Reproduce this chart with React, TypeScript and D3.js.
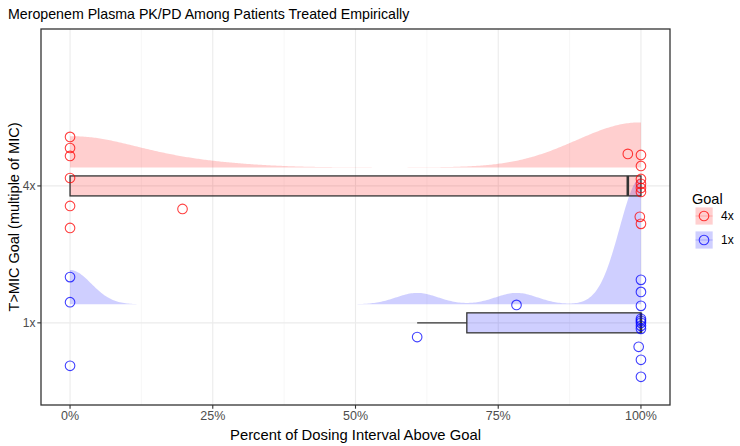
import React from "react";
import * as d3 from "d3";

// Categories (bottom to top on the y axis)
const goalOrder = ["1x", "4x"];
const legendOrder = ["4x", "1x"];
const goalColors = ["blue", "red"]; // aligned with goalOrder

// Observed points: percent of dosing interval above goal, with vertical jitter offsets
const pct4x = [0, 0, 0, 0, 0, 0, 19.7, 97.7, 100, 100, 100, 100, 100, 100, 99.8, 100];
const jitter4x = [0.358, 0.277, 0.219, 0.058, -0.146, -0.307, -0.168, 0.234, 0.226, 0.146, 0.051, 0.015, -0.015, -0.044, -0.226, -0.277];
const pct1x = [0, 0, 0, 60.8, 78.2, 100, 100, 100, 100, 100, 100, 100, 100, 99.6, 100, 100];
const jitter1x = [0.334, 0.151, -0.314, -0.104, 0.131, 0.314, 0.226, 0.124, 0.029, 0.015, 0.0, -0.022, -0.044, -0.175, -0.27, -0.394];

// Boxplot statistics (aligned with goalOrder)
const boxLow = [60.8, 0];
const boxQ1 = [69.5, 0];
const boxMedian = [100, 97.7];
const boxQ3 = [100, 100];
const boxHigh = [100, 100];

// Density bandwidths (aligned with goalOrder)
const densityBandwidth = [3.7, 11];

const xTicks = [0, 25, 50, 75, 100];
const xTickLabels = ["0%", "25%", "50%", "75%", "100%"];
const xMinor = [12.5, 37.5, 62.5, 87.5];

const FONT = "'Liberation Sans', Arial, Helvetica, sans-serif";

function kde(xs: number[], bw: number, grid: number[]) {
  return grid.map((g) => ({
    x: g,
    d:
      d3.sum(xs, (xi) => Math.exp(-0.5 * ((g - xi) / bw) ** 2)) /
      (xs.length * bw * Math.sqrt(2 * Math.PI)),
  }));
}

export default function App() {
  const W = 740;
  const H = 446;
  const pL = 41, pR = 670, pT = 29, pB = 405;
  const x = d3.scaleLinear().domain([-5, 105]).range([41.5, 669.5]);
  const y = d3.scaleLinear().domain([0.4, 3.146]).range([pB, pT]);
  const pos = (g: string) => goalOrder.indexOf(g) + 1;

  const groups = [
    { goal: "1x", pct: pct1x, jit: jitter1x },
    { goal: "4x", pct: pct4x, jit: jitter4x },
  ];
  const peakPx = [126, 45];
  const ridgeOffset = 0.135;
  const grid = d3.range(0, 100.0001, 0.25);

  const fillOf = (i: number) =>
    i === 0 ? "rgba(0,0,255,0.19)" : "rgba(255,0,0,0.19)";

  const boxHalf = 0.073;

  return (
    <svg
      width={W}
      height={H}
      style={{ position: "absolute", left: 0, top: 0, background: "#fff" }}
      fontFamily={FONT}
    >
      <rect x={0} y={0} width={W} height={H} fill="#fff" />
      {/* grid */}
      {xMinor.map((v) => (
        <line key={"mn" + v} x1={x(v)} x2={x(v)} y1={pT} y2={pB} stroke="#F2F2F2" strokeWidth={0.6} />
      ))}
      {xTicks.map((v) => (
        <line key={"mj" + v} x1={x(v)} x2={x(v)} y1={pT} y2={pB} stroke="#EBEBEB" strokeWidth={1.1} />
      ))}
      {goalOrder.map((g) => (
        <line key={"gy" + g} x1={pL} x2={pR} y1={y(pos(g))} y2={y(pos(g))} stroke="#EBEBEB" strokeWidth={1.1} />
      ))}

      {/* density ridges */}
      {groups.map((grp, i) => {
        const dens = kde(grp.pct, densityBandwidth[i], grid);
        const mx = d3.max(dens, (d) => d.d) as number;
        const base = y(pos(grp.goal) + ridgeOffset);
        const area = d3
          .area<{ x: number; d: number }>()
          .x((d) => x(d.x))
          .y0(base)
          .y1((d) => base - (d.d / mx) * peakPx[i])
          .curve(d3.curveLinear);
        return <path key={"dn" + grp.goal} d={area(dens) || ""} fill={fillOf(i)} stroke="none" />;
      })}

      {/* boxplots */}
      {goalOrder.map((g, i) => {
        const c = pos(g);
        const yt = y(c + boxHalf);
        const yb = y(c - boxHalf);
        return (
          <g key={"bx" + g}>
            <line x1={x(boxLow[i])} x2={x(boxQ1[i])} y1={y(c)} y2={y(c)} stroke="#333" strokeWidth={1.2} />
            <line x1={x(boxQ3[i])} x2={x(boxHigh[i])} y1={y(c)} y2={y(c)} stroke="#333" strokeWidth={1.2} />
            <rect
              x={x(boxQ1[i])}
              y={yt}
              width={x(boxQ3[i]) - x(boxQ1[i])}
              height={yb - yt}
              fill={fillOf(i)}
              stroke="#333"
              strokeWidth={1.3}
            />
            <line x1={x(boxMedian[i])} x2={x(boxMedian[i])} y1={yt} y2={yb} stroke="#333" strokeWidth={2.6} />
          </g>
        );
      })}

      {/* points */}
      {groups.map((grp) =>
        grp.pct.map((p, j) => (
          <circle
            key={"pt" + grp.goal + j}
            cx={x(p)}
            cy={y(pos(grp.goal) + grp.jit[j])}
            r={4.8}
            fill="none"
            stroke={goalColors[goalOrder.indexOf(grp.goal)]}
            strokeOpacity={0.75}
            strokeWidth={1.1}
          />
        ))
      )}

      {/* panel border */}
      <rect x={pL} y={pT} width={pR - pL} height={pB - pT} fill="none" stroke="#333" strokeWidth={1.3} />

      {/* x axis */}
      {xTicks.map((v, i) => (
        <g key={"xt" + v}>
          <line x1={x(v)} x2={x(v)} y1={pB} y2={pB + 3.7} stroke="#333" strokeWidth={1.1} />
          <text x={x(v)} y={pB + 15} textAnchor="middle" fontSize={12.5} fill="#4D4D4D">
            {xTickLabels[i]}
          </text>
        </g>
      ))}
      {/* y axis */}
      {goalOrder.map((g) => (
        <g key={"yt" + g}>
          <line x1={pL - 3.7} x2={pL} y1={y(pos(g))} y2={y(pos(g))} stroke="#333" strokeWidth={1.1} />
          <text x={pL - 5.5} y={y(pos(g))} dy="0.35em" textAnchor="end" fontSize={12} fill="#4D4D4D">
            {g}
          </text>
        </g>
      ))}

      {/* titles */}
      <text x={8} y={19} fontSize={14.2} fill="#000">
        Meropenem Plasma PK/PD Among Patients Treated Empirically
      </text>
      <text x={(pL + pR) / 2} y={440} textAnchor="middle" fontSize={14.8} fill="#000">
        Percent of Dosing Interval Above Goal
      </text>
      <text
        transform={`translate(19,${(pT + pB) / 2}) rotate(-90)`}
        textAnchor="middle"
        fontSize={14.5}
        fill="#000"
      >
        T&gt;MIC Goal (multiple of MIC)
      </text>

      {/* legend */}
      <text x={692} y={204} fontSize={14.5} fill="#000">
        Goal
      </text>
      {legendOrder.map((g, k) => {
        const i = goalOrder.indexOf(g);
        const cy = 216 + k * 24;
        return (
          <g key={"lg" + g}>
            <rect x={695.5} y={cy - 8.6} width={17.2} height={17.2} fill={fillOf(i)} />
            <line x1={695.5} x2={712.7} y1={cy} y2={cy} stroke={goalColors[i]} strokeOpacity={0.2} strokeWidth={1} />
            <circle cx={704} cy={cy} r={4.8} fill="none" stroke={goalColors[i]} strokeOpacity={0.75} strokeWidth={1.1} />
            <text x={721} y={cy} dy="0.35em" fontSize={12} fill="#000">
              {g}
            </text>
          </g>
        );
      })}
    </svg>
  );
}
